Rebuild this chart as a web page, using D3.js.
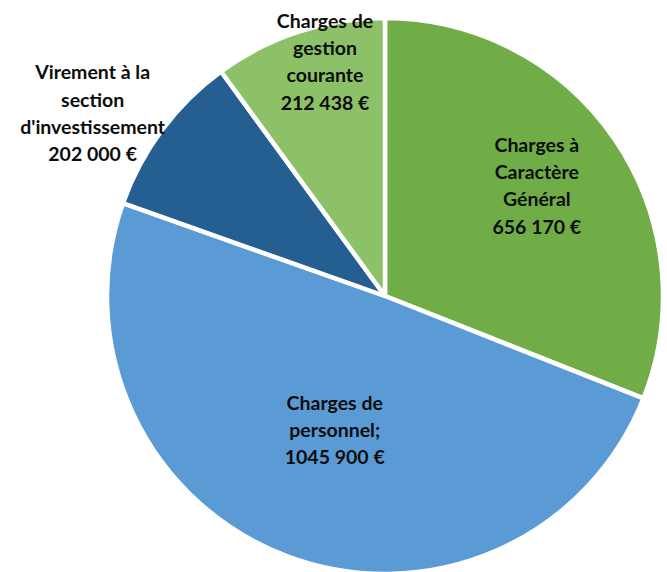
<!DOCTYPE html>
<html>
<head>
<meta charset="utf-8">
<script src="https://cdn.jsdelivr.net/npm/d3@7"></script>
<style>
  body { margin: 0; background: #fff; }
  text { font-family: Lato, "Open Sans", sans-serif; font-weight: 700; }
</style>
</head>
<body>
<div id="chart"></div>
<script>
// Budget data, clockwise from 12 o'clock
const categories = ["Charges à Caractère Général", "Charges de personnel", "Virement à la section d'investissement", "Charges de gestion courante"];
const values = [656170, 1045900, 202000, 212438];
const labelLines = [
    ["Charges à", "Caractère", "Général", "656 170 €"],
    ["Charges de", "personnel;", "1045 900 €"],
    ["Virement à la", "section", "d'investissement", "202 000 €"],
    ["Charges de", "gestion", "courante", "212 438 €"]
];
const colors = ["#70AD47", "#5B9BD5", "#255E91", "#8CC168"];
// label placement: distance as a share of the radius, and a small angle nudge (degrees)
const labelRadius = [0.675, 0.515, 1.24, 0.87];
const labelAngleShift = [-1.8, 0, -4.7, 3.7];

const width = 667, height = 572;
const cx = 385, cy = 296, radius = 278;

const svg = d3.select("#chart").append("svg")
    .attr("width", width)
    .attr("height", height);

const g = svg.append("g").attr("transform", `translate(${cx},${cy})`);

const data = categories.map((c, i) => ({ name: c, value: values[i], i }));
const pie = d3.pie().value(d => d.value).sort(null);
const arcs = pie(data);
const arc = d3.arc().innerRadius(0).outerRadius(radius);

g.selectAll("path.slice").data(arcs).enter().append("path")
    .attr("class", "slice")
    .attr("d", arc)
    .attr("fill", d => colors[d.data.i])
    .attr("stroke", "#fff")
    .attr("stroke-width", 4.5)
    .attr("stroke-linejoin", "round");

const lineH = 27.3;
const labels = g.selectAll("text.lbl").data(arcs).enter().append("text")
    .attr("class", "lbl")
    .attr("text-anchor", "middle")
    .attr("fill", "#0d0d0d")
    .style("font-size", "19.5px")
    .attr("transform", d => {
        const r = radius * labelRadius[d.data.i];
        const a = (d.startAngle + d.endAngle) / 2 + labelAngleShift[d.data.i] * Math.PI / 180;
        return `translate(${r * Math.sin(a)},${-r * Math.cos(a)})`;
    });

labels.each(function(d) {
    const lines = labelLines[d.data.i];
    const t = d3.select(this);
    lines.forEach((ln, k) => {
        t.append("tspan")
            .attr("x", 0)
            .attr("y", (k - (lines.length - 1) / 2) * lineH + 7)
            .text(ln);
    });
});
</script>
</body>
</html>
